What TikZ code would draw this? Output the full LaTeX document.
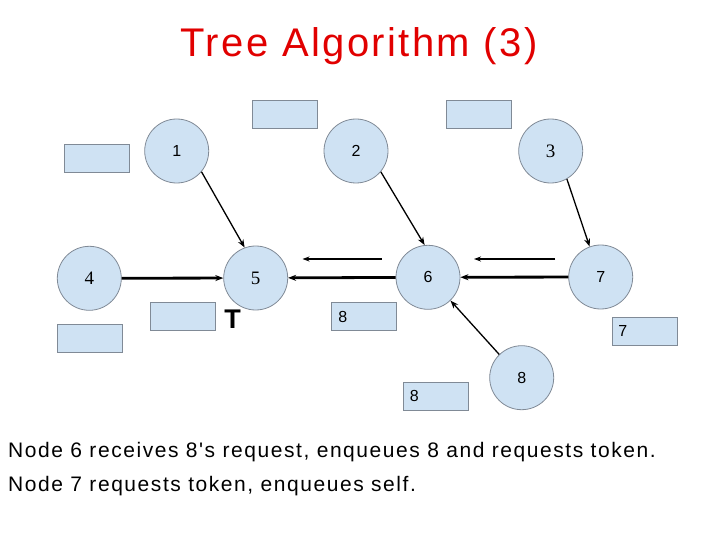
\documentclass[tikz,border=0pt]{standalone}
\usepackage{fontspec}
\setmainfont{Liberation Sans}
\newfontfamily\serifnum{Liberation Serif}
\newfontfamily\titlefont[LetterSpace=6]{Liberation Sans}
\newfontfamily\capfont[LetterSpace=7.4]{Liberation Sans}
\usetikzlibrary{arrows.meta}
\definecolor{nodefill}{RGB}{207,226,243}
\definecolor{nodeline}{RGB}{128,138,150}
\definecolor{titlered}{RGB}{225,0,0}
\tikzset{
  proc/.style={circle, draw=nodeline, fill=nodefill, line width=0.8pt, minimum size=64pt, inner sep=0pt, font=\fontsize{16}{18}\selectfont},
  serifproc/.style={proc, font=\serifnum\fontsize{19}{20}\selectfont},
  qbox/.style={rectangle, draw=nodeline, fill=nodefill, line width=0.8pt, minimum width=65pt, minimum height=28pt, inner sep=0pt},
  qlabel/.style={font=\fontsize{16}{18}\selectfont, inner sep=0pt},
  req/.style={-{Stealth[length=8pt,width=6pt]}, line width=1.3pt},
  link/.style={-{Stealth[length=8pt,width=6pt]}, line width=2.8pt},
  thin arrow/.style={-{Stealth[length=7pt,width=5pt]}, line width=1.1pt},
  thick seg/.style={line width=2.6pt},
  caption/.style={anchor=base west, inner sep=0pt, font=\capfont\fontsize{21}{24}\selectfont},
}
\begin{document}
\begin{tikzpicture}[x=1pt,y=-1pt]
\useasboundingbox (0,0) rectangle (720,540);
% title
\node[anchor=base, text=titlered, inner sep=0pt, font=\titlefont\fontsize{40}{44}\selectfont] (title) at (359,56.7) {Tree Algorithm (3)};
% queue boxes
\node[qbox] (b1) at (96.7,158.2) {};
\node[qbox] (b2) at (284.5,114.7) {};
\node[qbox] (b3) at (479,114.7) {};
\node[qbox] (b4) at (89.7,338.2) {};
\node[qbox] (b5) at (183.3,316.7) {};
\node[qbox] (b6) at (364,316.7) {};
\node[qbox] (b7) at (644.5,331) {};
\node[qbox] (b8) at (435.8,396) {};
\node[qlabel] (l6) at (342.7,316.7) {8};
\node[qlabel] (l7) at (622.7,331) {7};
\node[qlabel] (l8) at (414.3,396) {8};
% token
\node[inner sep=0pt, font=\bfseries\fontsize{27}{30}\selectfont] (tok) at (232.5,319) {T};
% processes
\node[proc] (n1) at (176.7,151) {1};
\node[proc] (n2) at (356,151) {2};
\node[serifproc] (n3) at (550.7,151) {3};
\node[serifproc] (n4) at (89.3,278.3) {4};
\node[serifproc] (n5) at (255.7,278) {5};
\node[proc] (n6) at (428,277.3) {6};
\node[proc] (n7) at (600.7,277) {7};
\node[proc] (n8) at (521.7,377.7) {8};
% tree edges
\draw[link] (n4) -- (n5);
\draw[link] (n6) -- (n5);
\draw[link] (n7) -- (n6);
% requests
\draw[req] (n1.-40) -- (n5.110);
\draw[req] (n2.-40) -- (n6.96);
\draw[req] (n3.-60) -- (n7.110);
\draw[req] (n8.134) -- (n6.-46);
% request direction hints
\coordinate (a1s) at (381.7,259);
\coordinate (a1m) at (352,259);
\coordinate (a1e) at (302.5,259);
\coordinate (a2s) at (555,259);
\coordinate (a2m) at (526,259);
\coordinate (a2e) at (474,259);
\draw[thin arrow] (a1s) -- (a1e);
\draw[thick seg] (a1s) -- (a1m);
\draw[thin arrow] (a2s) -- (a2e);
\draw[thick seg] (a2s) -- (a2m);
% caption
\node[caption] (c1) at (8,457.3) {Node 6 receives 8's request, enqueues 8 and requests token.};
\node[caption] (c2) at (8,491.7) {Node 7 requests token, enqueues self.};
\end{tikzpicture}
\end{document}
